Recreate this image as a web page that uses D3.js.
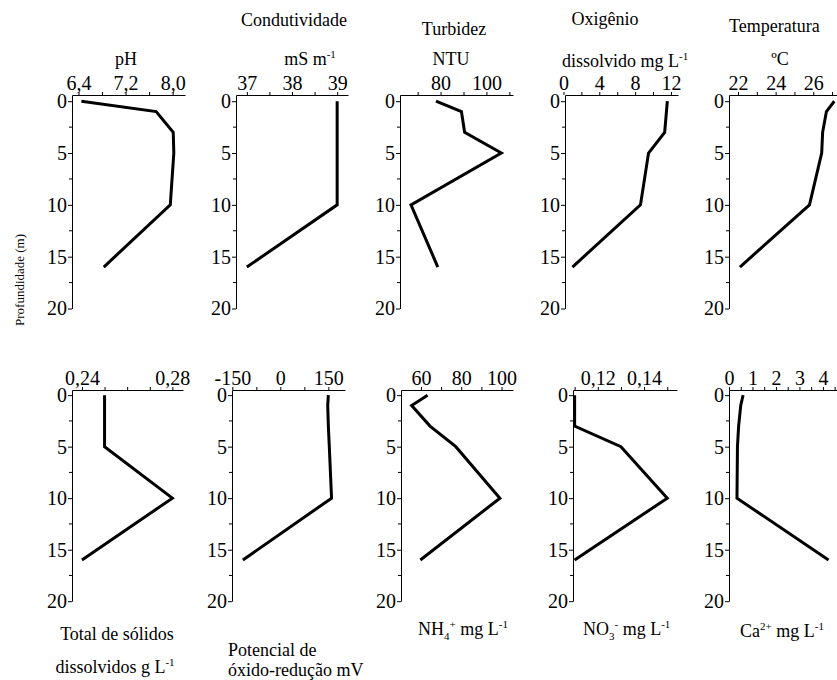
<!DOCTYPE html>
<html>
<head>
<meta charset="utf-8">
<script src="https://cdn.jsdelivr.net/npm/d3@7"></script>
<style>
body { margin: 0; background: #fff; }
svg text { font-family: "Liberation Serif", "DejaVu Serif", "Times New Roman", Times, serif; fill: #000; }
</style>
</head>
<body>
<div id="chart"></div>
<script>
// sampling depths (m)
var depths = [0, 1, 3, 5, 10, 16];

// profiles, one value per depth
var phVals = [6.45, 7.72, 8.01, 8.02, 7.96, 6.83];
var condVals = [39, 39, 39, 39, 39, 37.0];
var turbVals = [78.0, 89.1, 90.5, 106.5, 67.1, 78.8];
var oxyVals = [11.6, 11.5, 11.3, 9.5, 8.6, 1.0];
var tempVals = [27.12, 26.7, 26.5, 26.45, 25.8, 22.1];
var tdsVals = [0.25, 0.25, 0.25, 0.25, 0.28, 0.24];
var redoxVals = [150, 148, 150, 153, 160, -117];
var nh4Vals = [63.3, 55.4, 64.5, 77.3, 99.2, 59.7];
var no3Vals = [0.11, 0.11, 0.11, 0.13, 0.15, 0.11];
var caVals = [0.6, 0.5, 0.41, 0.36, 0.34, 4.24];

// tick values and labelled ticks
var phTicks = [6.4, 6.8, 7.2, 7.6, 8.0], phLabels = [6.4, 7.2, 8.0];
var condTicks = [37, 37.5, 38, 38.5, 39], condLabels = [37, 38, 39];
var turbTicks = [70, 80, 90, 100, 110], turbLabels = [80, 100];
var oxyTicks = [0, 2, 4, 6, 8, 10, 12], oxyLabels = [0, 4, 8, 12];
var tempTicks = [22, 23, 24, 25, 26, 27], tempLabels = [22, 24, 26];
var tdsTicks = [0.24, 0.25, 0.26, 0.27, 0.28], tdsLabels = [0.24, 0.28];
var redoxTicks = [-150, -75, 0, 75, 150], redoxLabels = [-150, 0, 150];
var nh4Ticks = [60, 70, 80, 90, 100], nh4Labels = [60, 80, 100];
var no3Ticks = [0.11, 0.12, 0.13, 0.14, 0.15], no3Labels = [0.12, 0.14];
var caTicks = [0, 0.5, 1, 1.5, 2, 2.5, 3, 3.5, 4, 4.5], caLabels = [0, 1, 2, 3, 4];

var depthTicks = [0, 5, 10, 15, 20];
var depthMinor = [2.5, 7.5, 12.5, 17.5];

const width = 837;
const height = 680;
const serif = '"Liberation Serif", "DejaVu Serif", "Times New Roman", serif';

// layout of each small panel
var rows = [
    {y0: 95, y1: 308.5, d0: -0.6},
    {y0: 390, y1: 601.2, d0: -0.5}
];

var panels = [
    {vals: phVals, ticks: phTicks, labels: phLabels, dec: 1, domain: [6.29, 8.21], x0: 72, x1: 185, row: 0,
     title: [{x: 126, y: 65, a: 'middle', parts: [['pH']]}]},
    {vals: condVals, ticks: condTicks, labels: condLabels, dec: 0, domain: [36.76, 39.24], x0: 236, x1: 348, row: 0,
     title: [{x: 294, y: 26, a: 'middle', parts: [['Condutividade']]},
             {x: 310, y: 65, a: 'middle', parts: [['mS m'], ['-1', 'sup']]}]},
    {vals: turbVals, ticks: turbTicks, labels: turbLabels, dec: 0, domain: [62.3, 111.6], x0: 400, x1: 513, row: 0,
     title: [{x: 454, y: 35, a: 'middle', parts: [['Turbidez']]},
             {x: 451, y: 65, a: 'middle', parts: [['NTU']]}]},
    {vals: oxyVals, ticks: oxyTicks, labels: oxyLabels, dec: 0, domain: [0.17, 12.79], x0: 565, x1: 678, row: 0,
     title: [{x: 605, y: 25, a: 'middle', parts: [['Oxigênio']]},
             {x: 562, y: 67, a: 'start', parts: [['dissolvido mg L'], ['-1', 'sup']]}]},
    {vals: tempVals, ticks: tempTicks, labels: tempLabels, dec: 0, domain: [21.52, 27.53], x0: 729, x1: 842, row: 0,
     title: [{x: 729, y: 32, a: 'start', parts: [['Temperatura']]},
             {x: 780, y: 65, a: 'middle', parts: [['ºC']]}]},
    {vals: tdsVals, ticks: tdsTicks, labels: tdsLabels, dec: 2, domain: [0.2356, 0.2847], x0: 72, x1: 183, row: 1,
     title: [{x: 117, y: 640, a: 'middle', parts: [['Total de sólidos']]},
             {x: 115, y: 673, a: 'middle', parts: [['dissolvidos g L'], ['-1', 'sup']]}]},
    {vals: redoxVals, ticks: redoxTicks, labels: redoxLabels, dec: 0, domain: [-151, 202], x0: 232, x1: 345, row: 1,
     title: [{x: 228, y: 656, a: 'start', parts: [['Potencial de']]},
             {x: 228, y: 676, a: 'start', parts: [['óxido-redução mV']]}]},
    {vals: nh4Vals, ticks: nh4Ticks, labels: nh4Labels, dec: 0, domain: [50.1, 105.7], x0: 401, x1: 513, row: 1,
     title: [{x: 418, y: 635, a: 'start', parts: [['NH'], ['4', 'sub'], ['+', 'sup'], ['  mg L'], ['-1', 'sup']]}]},
    {vals: no3Vals, ticks: no3Ticks, labels: no3Labels, dec: 2, domain: [0.1093, 0.1542], x0: 573, x1: 677, row: 1,
     title: [{x: 583, y: 635, a: 'start', parts: [['NO'], ['3', 'sub'], ['-', 'sup'], [' mg L'], ['-1', 'sup']]}]},
    {vals: caVals, ticks: caTicks, labels: caLabels, dec: 0, domain: [0, 4.6], x0: 729, x1: 837, row: 1,
     title: [{x: 740, y: 637, a: 'start', parts: [['Ca'], ['2+', 'sup'], [' mg L'], ['-1', 'sup']]}]}
];

var svg = d3.select('#chart')
    .append('svg')
    .attr('width', width)
    .attr('height', height)
    .attr('font-family', serif);

function fmtNum(v, dec){
    return v.toFixed(dec).replace('.', ',');
}

function addTitle(t){
    var txt = svg.append('text')
        .attr('x', t.x)
        .attr('y', t.y)
        .attr('text-anchor', t.a)
        .attr('font-family', serif)
        .style('font-size', '18px');
    var shift = 0;
    t.parts.forEach(function(p){
        var target = 0;
        var s = txt.append('tspan').text(p[0]);
        if (p[1] == 'sup'){ target = -7; s.style('font-size', '11px'); }
        if (p[1] == 'sub'){ target = 5; s.style('font-size', '11px'); }
        s.attr('dy', target - shift);
        shift = target;
    });
}

panels.forEach(function(p){
    var r = rows[p.row];
    var xScale = d3.scaleLinear().domain(p.domain).range([p.x0, p.x1]);
    var yScale = d3.scaleLinear().domain([r.d0, 20]).range([r.y0, r.y1]);

    var xAxis = svg.append('g')
        .attr('transform', 'translate(0,' + r.y0 + ')')
        .call(d3.axisTop(xScale)
            .tickValues(p.ticks)
            .tickSize(3)
            .tickSizeOuter(0)
            .tickPadding(2)
            .tickFormat(function(d){
                var show = p.labels.some(l => Math.abs(l - d) < 1e-9);
                return show ? fmtNum(d, p.dec) : '';
            }));
    xAxis.attr('font-size', 20).attr('font-family', serif);
    xAxis.selectAll('path, line').attr('stroke', '#000');

    var yAxis = svg.append('g')
        .attr('transform', 'translate(' + p.x0 + ',0)')
        .call(d3.axisLeft(yScale)
            .tickValues(depthTicks)
            .tickSize(4)
            .tickSizeOuter(0)
            .tickPadding(1));
    yAxis.attr('font-size', 20).attr('font-family', serif);
    yAxis.selectAll('path, line').attr('stroke', '#000');

    svg.selectAll(null)
        .data(depthMinor)
        .enter()
        .append('line')
        .attr('x1', p.x0 - 3)
        .attr('x2', p.x0)
        .attr('y1', d => yScale(d))
        .attr('y2', d => yScale(d))
        .attr('stroke', '#000');

    var pts = depths.map((d, i) => ({d: d, v: p.vals[i]}));
    var line = d3.line()
        .x(d => xScale(d.v))
        .y(d => yScale(d.d));
    svg.append('path')
        .datum(pts)
        .attr('d', line)
        .attr('fill', 'none')
        .attr('stroke', '#000')
        .attr('stroke-width', 3);

    p.title.forEach(addTitle);
});

svg.append('text')
    .attr('transform', 'translate(24,326) rotate(-90)')
    .attr('text-anchor', 'start')
    .attr('font-family', serif)
    .style('font-size', '13px')
    .text('Profundidade (m)');
</script>
</body>
</html>
